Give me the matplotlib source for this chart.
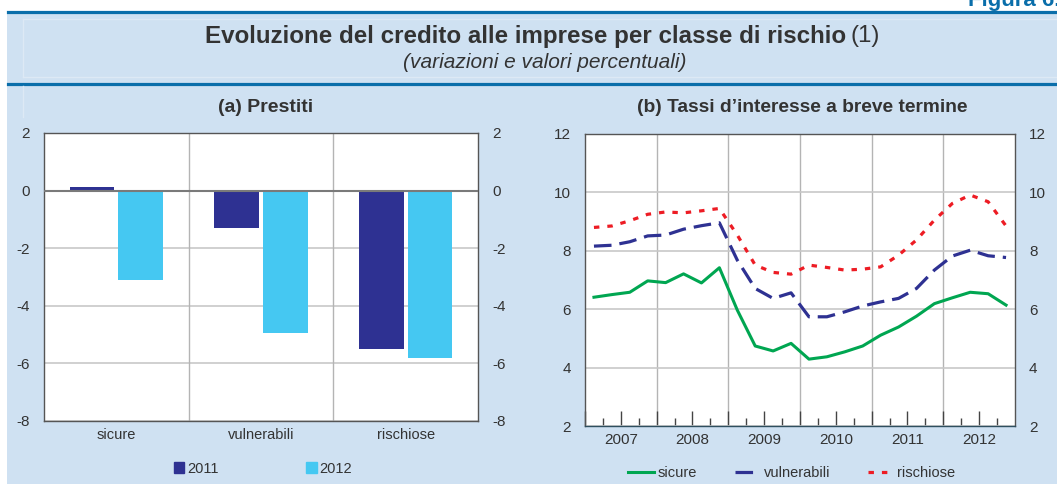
import numpy as np
import matplotlib
matplotlib.use("Agg")
import matplotlib.pyplot as plt
from matplotlib.patches import Patch
from matplotlib.lines import Line2D

plt.rcParams['font.family'] = ['Liberation Sans', 'DejaVu Sans']
plt.rcParams['axes.unicode_minus'] = False

# (a) Prestiti
categorie = ['sicure', 'vulnerabili', 'rischiose']
prestiti_2011 = [0.14, -1.31, -5.51]
prestiti_2012 = [-3.09, -4.95, -5.82]

# (b) Tassi d'interesse a breve termine, trimestrali 2007Q1 - 2012Q4
anni = [2007, 2008, 2009, 2010, 2011, 2012]
trimestri = [a + (q + 0.5) / 4 for a in anni for q in range(4)]
sicure = [6.41, 6.50, 6.58, 6.97, 6.91, 7.21, 6.90, 7.42,
          5.97, 4.74, 4.57, 4.83, 4.29, 4.37, 4.54, 4.74,
          5.11, 5.39, 5.76, 6.19, 6.39, 6.58, 6.53, 6.14]
vulnerabili = [8.16, 8.19, 8.31, 8.51, 8.54, 8.74, 8.86, 8.96,
               7.68, 6.71, 6.37, 6.56, 5.74, 5.74, 5.91, 6.11,
               6.25, 6.37, 6.71, 7.34, 7.82, 8.02, 7.83, 7.77]
rischiose = [8.80, 8.85, 9.03, 9.25, 9.33, 9.30, 9.37, 9.45,
             8.54, 7.51, 7.26, 7.20, 7.51, 7.43, 7.34, 7.37,
             7.45, 7.85, 8.37, 9.05, 9.62, 9.91, 9.68, 8.85]

bg = '#cfe1f2'
blu_scuro = '#2e3192'
azzurro = '#45c8f2'
verde = '#00a651'
rosso = '#ed1c24'
testo = '#333333'
griglia = '#b4b4b4'
W, H = 1057, 484

fig = plt.figure(figsize=(W / 100, H / 100), dpi=100)
fig.patch.set_facecolor('white')

# sfondo azzurro e linee di cornice
fig.patches.append(plt.Rectangle((7 / W, 0), 1, 1 - 12 / H, transform=fig.transFigure,
                                 facecolor=bg, edgecolor='none', zorder=-10))
for yy in (12, 84):
    fig.add_artist(Line2D([8 / W, 1], [1 - yy / H] * 2, color='#0a6eaa', lw=2.3))
for x0, x1, y0, y1 in [(23, W, 19, 19), (23, W, 77, 77), (23, 23, 19, 77), (23, 23, 86, 117)]:
    fig.add_artist(Line2D([x0 / W, x1 / W], [1 - y0 / H, 1 - y1 / H], color='#dde9f5', lw=1))

fig.text(968 / W, 1 - 6 / H, 'Figura 6.', ha='left', va='baseline', color='#0a6eaa',
         fontsize=16, fontweight='bold')
fig.text(846 / W, 1 - 36 / H, 'Evoluzione del credito alle imprese per classe di rischio',
         ha='right', va='center', fontsize=17.4, fontweight='bold', color=testo)
fig.text(851 / W, 1 - 36 / H, '(1)', ha='left', va='center', fontsize=17.4, color=testo)
fig.text(545 / W, 1 - 62 / H, '(variazioni e valori percentuali)', ha='center', va='center',
         fontsize=15, style='italic', color=testo)
fig.text(266 / W, 1 - 107 / H, '(a) Prestiti', ha='center', va='center',
         fontsize=14, fontweight='bold', color=testo)
fig.text(802 / W, 1 - 107 / H, "(b) Tassi d\u2019interesse a breve termine", ha='center',
         va='center', fontsize=13.8, fontweight='bold', color=testo)

# ---- pannello (a)
ax1 = fig.add_axes([44 / W, 1 - 421 / H, 434 / W, 288 / H])
x = np.arange(len(categorie))
w = 0.307
ax1.bar(x - 0.168, prestiti_2011, w, color=blu_scuro, zorder=3, label='2011')
ax1.bar(x + 0.168, prestiti_2012, w, color=azzurro, zorder=3, label='2012')
ax1.set_xlim(-0.5, 2.5)
ax1.set_ylim(-8, 2)
ax1.set_yticks(range(-8, 3, 2))
ax1.set_xticks(x)
ax1.set_xticklabels(categorie)
for xv in (0.5, 1.5):
    ax1.axvline(xv, color=griglia, lw=1, zorder=1)
ax1.yaxis.grid(True, color='#c8c8c8', lw=1.2, zorder=1)
ax1.axhline(0, color='#7a7a7a', lw=1.5, zorder=4)
ax1.set_axisbelow(True)
ax1.tick_params(axis='y', length=0, labelleft=True, labelright=True, pad=10,
                labelsize=11, labelcolor=testo)
ax1.tick_params(axis='x', length=0, pad=5, labelsize=10.5, labelcolor=testo)
for s in ax1.spines.values():
    s.set_color('#555555')
    s.set_linewidth(1)
ax1.legend(handles=[Patch(color=blu_scuro, label='2011'), Patch(color=azzurro, label='2012')],
           loc='center', bbox_to_anchor=(0.505, -0.165), ncol=2, frameon=False,
           handlelength=0.7, handleheight=0.7, handletextpad=0.2, columnspacing=6.0,
           fontsize=10.5, labelcolor=testo)

# ---- pannello (b)
ax2 = fig.add_axes([585 / W, 1 - 426 / H, 430 / W, 292 / H])
ax2.plot(trimestri, sicure, color=verde, lw=2.2, label='sicure', zorder=4)
ax2.plot(trimestri, vulnerabili, color=blu_scuro, lw=2.3, dashes=(5.5, 2.5), label='vulnerabili', zorder=4)
ax2.plot(trimestri, rischiose, color=rosso, lw=2.3, dashes=(1.7, 2.5), label='rischiose', zorder=4)
ax2.set_xlim(anni[0], anni[-1] + 1)
ax2.set_ylim(2, 12)
ax2.set_yticks(range(2, 13, 2))
ax2.yaxis.grid(True, color='#c8c8c8', lw=1.2, zorder=1)
for a in anni[1:]:
    ax2.axvline(a, color=griglia, lw=1, zorder=1)
meta = [a + 0.5 * k for a in anni for k in range(2)]
ax2.set_xticks(meta)
ax2.set_xticklabels(['' if k == 0 else str(a) for a in anni for k in range(2)])
ax2.set_xticks([a + q / 4 for a in anni for q in (1, 3)], minor=True)
ax2.tick_params(axis='x', which='major', direction='in', length=11, width=1, color='#444444',
                labelsize=11, labelcolor=testo, pad=5)
ax2.tick_params(axis='x', which='minor', direction='in', length=5.5, width=1, color='#444444')
ax2.tick_params(axis='y', length=0, labelleft=True, labelright=True, pad=10,
                labelsize=11, labelcolor=testo)
for s in ax2.spines.values():
    s.set_color('#555555')
    s.set_linewidth(1)
ax2.spines['bottom'].set_color('#2f4f5f')
ax2.legend(loc='center', bbox_to_anchor=(0.481, -0.16), ncol=3, frameon=False,
           handlelength=1.75, handletextpad=0.25, columnspacing=2.6, fontsize=10.5,
           labelcolor=testo)

fig.savefig('out.png', dpi=100, facecolor=fig.get_facecolor())
